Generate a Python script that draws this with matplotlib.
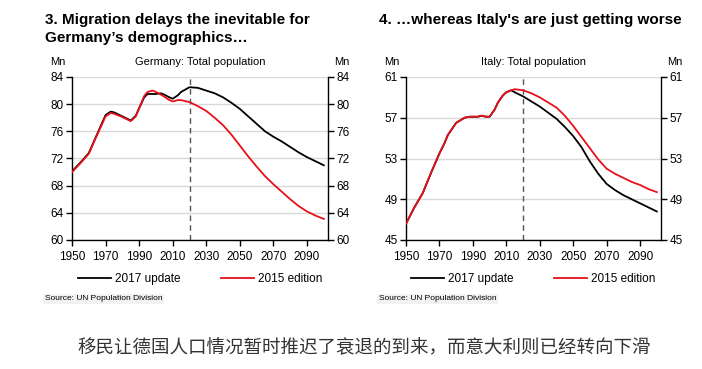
import matplotlib
matplotlib.use('Agg')
import matplotlib.pyplot as plt

years = [1950, 1955, 1960, 1965, 1970, 1973, 1975, 1980, 1985, 1988, 1990, 1993, 1995, 1998,
         2000, 2003, 2005, 2008, 2010, 2013, 2015, 2020, 2025, 2030, 2035, 2040, 2045, 2050,
         2055, 2060, 2065, 2070, 2075, 2080, 2085, 2090, 2095, 2100]

de_2017 = [70.1, 71.4, 72.8, 75.6, 78.4, 78.9, 78.8, 78.2, 77.6, 78.3, 79.4, 81.0, 81.5, 81.5,
           81.5, 81.6, 81.4, 81.0, 80.8, 81.3, 81.8, 82.5, 82.4, 82.0, 81.6, 81.0, 80.2, 79.3,
           78.2, 77.1, 76.0, 75.2, 74.5, 73.7, 72.9, 72.2, 71.6, 71.0]
de_2015 = [70.0, 71.3, 72.7, 75.5, 78.2, 78.7, 78.6, 78.1, 77.5, 78.2, 79.4, 81.2, 81.8, 82.0,
           81.8, 81.4, 81.1, 80.6, 80.4, 80.6, 80.6, 80.3, 79.7, 79.0, 78.0, 76.9, 75.5, 73.9,
           72.3, 70.8, 69.4, 68.2, 67.1, 66.0, 65.0, 64.2, 63.6, 63.1]

it_2017 = [46.6, 48.2, 49.6, 51.6, 53.5, 54.5, 55.3, 56.5, 57.0, 57.1, 57.1, 57.1, 57.2, 57.1,
           57.1, 57.8, 58.5, 59.2, 59.5, 59.7, 59.5, 59.1, 58.6, 58.1, 57.5, 56.9, 56.1, 55.2,
           54.1, 52.7, 51.5, 50.5, 49.9, 49.4, 49.0, 48.6, 48.2, 47.8]
it_2015 = [46.6, 48.2, 49.6, 51.6, 53.5, 54.5, 55.3, 56.5, 57.0, 57.1, 57.1, 57.1, 57.2, 57.1,
           57.1, 57.8, 58.5, 59.2, 59.5, 59.7, 59.8, 59.7, 59.4, 59.0, 58.5, 58.0, 57.2, 56.2,
           55.1, 54.0, 52.9, 52.0, 51.5, 51.1, 50.7, 50.4, 50.0, 49.7]

xticks = [1950, 1970, 1990, 2010, 2030, 2050, 2070, 2090]
de_yticks = [60, 64, 68, 72, 76, 80, 84]
it_yticks = [45, 49, 53, 57, 61]

plt.rcParams['font.family'] = ['Liberation Sans', 'DejaVu Sans']

fig = plt.figure(figsize=(7.02, 3.69), dpi=100)
W, H = 702.0, 369.0

def panel(left, right, vals17, vals15, yticks, sub, title):
    ax = fig.add_axes([left / W, 1 - 240 / H, (right - left) / W, 163 / H])
    ax.plot(years, vals17, color='black', lw=1.3, zorder=3, label='2017 update')
    ax.plot(years, vals15, color='#e8101a', lw=1.3, zorder=4, label='2015 edition')
    ax.axvline(2020, color='#555555', lw=1, ls=(0, (4, 3)), zorder=2)
    ax.set_xlim(1950, 2102.5)
    ax.set_ylim(yticks[0], yticks[-1])
    ax.set_xticks(xticks)
    ax.set_yticks(yticks)
    ax.yaxis.grid(True, color='#d9d9d9', lw=1)
    ax.set_axisbelow(True)
    ax.spines['top'].set_visible(False)
    for s in ['left', 'right', 'bottom']:
        ax.spines[s].set_linewidth(1)
    ax.tick_params(axis='both', direction='out', length=4, width=1, labelsize=8.5, pad=2)
    ax.tick_params(axis='x', pad=4)
    ax.tick_params(axis='y', right=True, labelright=True)
    fig.text((left + right) / 2 / W, 1 - 62 / H, sub, fontsize=8, ha='center', va='center')
    fig.text((left - 14) / W, 1 - 62 / H, 'Mn', fontsize=8, ha='center', va='center')
    fig.text((right + 14) / W, 1 - 62 / H, 'Mn', fontsize=8, ha='center', va='center')
    ax.legend(loc='center', bbox_to_anchor=(0.5, -0.24), ncol=2, frameon=False,
              handlelength=2.8, columnspacing=3.4, handletextpad=0.35, fontsize=8.5)
    fig.text((left - 27) / W, 1 - 13 / H, title, fontsize=11, fontweight='bold',
             ha='left', va='top', linespacing=1.4)
    fig.text((left - 27) / W, 1 - 299 / H, 'Source: UN Population Division', fontsize=6,
             ha='left', va='center',
             bbox=dict(boxstyle='square,pad=0.2', fc='#f2f2f2', ec='none'))
    return ax

panel(72, 328, de_2017, de_2015, de_yticks, 'Germany: Total population',
      '3. Migration delays the inevitable for\nGermany\u2019s demographics\u2026')
panel(406, 661, it_2017, it_2015, it_yticks, 'Italy: Total population',
      "4. \u2026whereas Italy's are just getting worse")

fig.text(364 / W, 1 - 348 / H, '移民让德国人口情况暂时推迟了衰退的到来，而意大利则已经转向下滑',
         fontsize=13.3, color='#333333', ha='center', va='center',
         family=['Noto Sans CJK SC', 'DejaVu Sans'])

fig.savefig('out.png', dpi=100)
